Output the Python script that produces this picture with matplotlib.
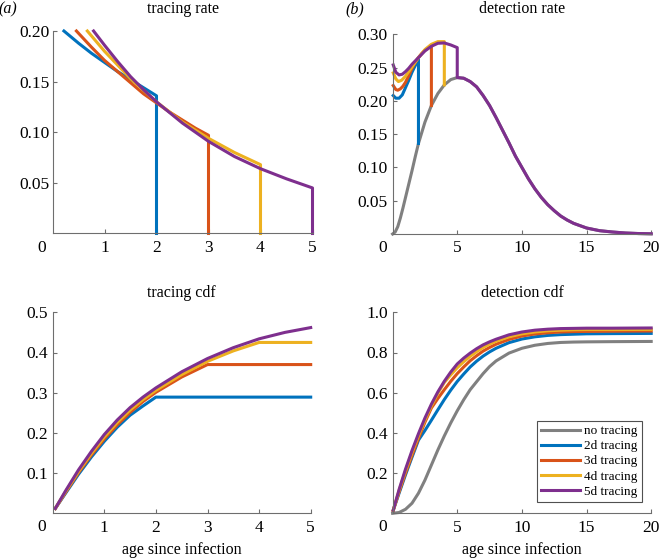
"""
plot.py

Rebuild the four-panel tracing / detection figure (rates and cdfs by age since infection).
"""

from __future__ import annotations

import matplotlib

matplotlib.use("Agg")
import matplotlib.pyplot as plt
from matplotlib.ticker import FormatStrFormatter


W, H = 659, 558

plt.rcParams["font.family"] = ["Liberation Serif", "DejaVu Serif"]

# colours (MATLAB default order + grey baseline)
C_NONE = "#808080"
C_2D = "#0072BD"
C_3D = "#D95319"
C_4D = "#EDB120"
C_5D = "#7E2F8E"

LABELS = ["no tracing", "2d tracing", "3d tracing", "4d tracing", "5d tracing"]

LW = 2.2
TICK_FS = 12.5
TEXT_FS = 11.5

# ---- (a) tracing rate ----
tr_rate_2d_x = [0.22, 0.5, 0.75, 1.0, 1.25, 1.5, 1.75, 2.0, 2.0]
tr_rate_2d_y = [0.200, 0.188, 0.178, 0.169, 0.160, 0.152, 0.144, 0.136, 0.0]
tr_rate_3d_x = [0.46, 0.75, 1.0, 1.25, 1.5, 1.75, 2.0, 2.25, 2.5, 2.75, 3.0, 3.0]
tr_rate_3d_y = [0.200, 0.184, 0.171, 0.160, 0.149, 0.138, 0.129, 0.120, 0.112, 0.104, 0.097, 0.0]
tr_rate_4d_x = [0.67, 1.0, 1.5, 2.0, 2.5, 3.0, 3.5, 4.0, 4.0]
tr_rate_4d_y = [0.200, 0.180, 0.153, 0.130, 0.110, 0.094, 0.080, 0.068, 0.0]
tr_rate_5d_x = [0.79, 1.0, 1.25, 1.5, 1.75, 2.0, 2.5, 3.0, 3.5, 4.0, 4.5, 5.0, 5.0]
tr_rate_5d_y = [0.200, 0.186, 0.170, 0.155, 0.142, 0.130, 0.109, 0.091, 0.076, 0.064, 0.054, 0.045, 0.0]

# ---- (a) tracing cdf ----
tr_cdf_2d_x = [0.05, 0.25, 0.5, 0.75, 1.0, 1.25, 1.5, 1.75, 2.0, 5.0]
tr_cdf_2d_y = [0.012, 0.050, 0.097, 0.140, 0.179, 0.214, 0.244, 0.267, 0.289, 0.289]
tr_cdf_3d_x = [0.05, 0.25, 0.5, 0.75, 1.0, 1.25, 1.5, 1.75, 2.0, 2.5, 3.0, 5.0]
tr_cdf_3d_y = [0.012, 0.052, 0.101, 0.145, 0.185, 0.220, 0.251, 0.278, 0.301, 0.339, 0.370, 0.370]
tr_cdf_4d_x = [0.05, 0.25, 0.5, 0.75, 1.0, 1.25, 1.5, 1.75, 2.0, 2.5, 3.0, 3.5, 4.0, 5.0]
tr_cdf_4d_y = [0.012, 0.054, 0.104, 0.149, 0.190, 0.226, 0.257, 0.283, 0.306, 0.345, 0.378, 0.404, 0.425, 0.425]
tr_cdf_5d_x = [0.05, 0.25, 0.5, 0.75, 1.0, 1.25, 1.5, 1.75, 2.0, 2.5, 3.0, 3.5, 4.0, 4.5, 5.0]
tr_cdf_5d_y = [0.012, 0.056, 0.108, 0.154, 0.196, 0.232, 0.263, 0.289, 0.312, 0.352, 0.385, 0.412, 0.434, 0.450, 0.462]

# ---- (b) detection rate ----
det_rate_none_x = [0.0, 0.2, 0.4, 0.6, 0.8, 1.0, 1.25, 1.5, 1.75, 2.0, 2.25, 2.5, 3.0, 3.5, 4.0, 4.5,
                   5.0, 5.5, 6.0, 6.5, 7.0, 7.5, 8.0, 8.5, 9.0, 9.5, 10.0, 10.5, 11.0, 11.5, 12.0,
                   12.5, 13.0, 13.5, 14.0, 15.0, 16.0, 17.0, 18.0, 19.0, 20.0]
det_rate_none_y = [0.0, 0.003, 0.011, 0.024, 0.039, 0.055, 0.075, 0.095, 0.116, 0.136, 0.152, 0.168,
                   0.193, 0.211, 0.224, 0.232, 0.235, 0.234, 0.229, 0.221, 0.208, 0.193, 0.175,
                   0.156, 0.137, 0.117, 0.100, 0.083, 0.068, 0.055, 0.044, 0.035, 0.027, 0.021,
                   0.016, 0.009, 0.005, 0.003, 0.0015, 0.0007, 0.0003]
det_rate_2d_x = [0.05, 0.25, 0.5, 0.75, 1.0, 1.25, 1.5, 1.75, 2.0, 2.0]
det_rate_2d_y = [0.208, 0.204, 0.204, 0.209, 0.220, 0.231, 0.243, 0.253, 0.263, 0.136]
det_rate_3d_x = [0.05, 0.25, 0.4, 0.6, 0.8, 1.0, 1.25, 1.5, 1.75, 2.0, 2.25, 2.5, 2.75, 3.0, 3.0]
det_rate_3d_y = [0.223, 0.217, 0.216, 0.218, 0.222, 0.228, 0.238, 0.249, 0.258, 0.265, 0.271,
                 0.276, 0.280, 0.283, 0.193]
det_rate_4d_x = [0.05, 0.25, 0.45, 0.7, 1.0, 1.25, 1.5, 1.75, 2.0, 2.5, 3.0, 3.5, 4.0, 4.0]
det_rate_4d_y = [0.242, 0.233, 0.229, 0.231, 0.237, 0.244, 0.251, 0.258, 0.265, 0.277, 0.285,
                 0.289, 0.289, 0.224]
det_rate_5d_x = [0.05, 0.25, 0.5, 0.75, 1.0, 1.25, 1.5, 2.0, 2.5, 3.0, 3.5, 4.0, 4.5, 5.0,
                 5.0, 5.5, 6.0, 6.5, 7.0, 7.5, 8.0, 8.5, 9.0, 9.5, 10.0, 10.5, 11.0, 11.5, 12.0,
                 12.5, 13.0, 13.5, 14.0, 15.0, 16.0, 17.0, 18.0, 19.0, 20.0]
det_rate_5d_y = [0.254, 0.243, 0.239, 0.240, 0.244, 0.249, 0.255, 0.265, 0.275, 0.282, 0.2865,
                 0.287, 0.284, 0.280, 0.235, 0.234, 0.229, 0.221, 0.208, 0.193, 0.175, 0.156,
                 0.137, 0.117, 0.100, 0.083, 0.068, 0.055, 0.044, 0.035, 0.027, 0.021, 0.016,
                 0.009, 0.005, 0.003, 0.0015, 0.0007, 0.0003]

# ---- (b) detection cdf ----
det_cdf_x = [0.05, 0.5, 1.0, 1.5, 2.0, 2.5, 3.0, 3.5, 4.0, 4.5, 5.0, 5.5, 6.0, 6.5, 7.0, 7.5,
             8.0, 9.0, 10.0, 11.0, 12.0, 13.0, 14.0, 15.0, 17.0, 20.0]
det_cdf_none_x = [0.0, 0.5, 1.0, 1.5, 2.0, 2.5, 3.0, 3.5, 4.0, 4.5, 5.0, 5.5, 6.0, 6.5, 7.0, 7.5,
                  8.0, 9.0, 10.0, 11.0, 12.0, 13.0, 14.0, 15.0, 17.0, 20.0]
det_cdf_none = [0.0, 0.004, 0.020, 0.050, 0.100, 0.165, 0.240, 0.315, 0.385, 0.450, 0.510, 0.565,
                0.615, 0.655, 0.695, 0.730, 0.758, 0.797, 0.821, 0.836, 0.845, 0.850, 0.852,
                0.853, 0.854, 0.855]
det_cdf_2d = [0.015, 0.100, 0.192, 0.279, 0.364, 0.412, 0.463, 0.515, 0.566, 0.613, 0.656, 0.693,
              0.728, 0.757, 0.782, 0.803, 0.821, 0.849, 0.867, 0.878, 0.885, 0.889, 0.891,
              0.893, 0.894, 0.895]
det_cdf_3d = [0.015, 0.106, 0.200, 0.288, 0.373, 0.453, 0.524, 0.571, 0.615, 0.657, 0.695, 0.728,
              0.759, 0.784, 0.807, 0.825, 0.841, 0.865, 0.882, 0.892, 0.898, 0.902, 0.904,
              0.905, 0.906, 0.907]
det_cdf_4d = [0.015, 0.113, 0.211, 0.302, 0.386, 0.464, 0.534, 0.597, 0.651, 0.689, 0.724, 0.754,
              0.781, 0.804, 0.825, 0.842, 0.856, 0.878, 0.893, 0.902, 0.908, 0.911, 0.913,
              0.914, 0.914, 0.915]
det_cdf_5d = [0.015, 0.118, 0.220, 0.312, 0.396, 0.474, 0.543, 0.604, 0.657, 0.703, 0.743, 0.772,
              0.797, 0.819, 0.838, 0.853, 0.866, 0.888, 0.902, 0.911, 0.916, 0.919, 0.920,
              0.921, 0.921, 0.922]


def px_axes(fig, left, right, top, bottom):
    return fig.add_axes([left / W, 1 - bottom / H, (right - left) / W, (bottom - top) / H])


def style_axes(ax, ypad=3.5):
    for side in ("top", "right"):
        ax.spines[side].set_visible(False)
    for side in ("left", "bottom"):
        ax.spines[side].set_color("#6e6e6e")
        ax.spines[side].set_linewidth(0.8)
    ax.tick_params(direction="in", length=3, width=0.8, color="#6e6e6e",
                   labelcolor="black", labelsize=TICK_FS)
    ax.tick_params(axis="x", pad=4.5)
    ax.tick_params(axis="y", pad=ypad)


def fig_text(fig, x, y, s, **kw):
    fig.text(x / W, 1 - y / H, s, ha="center", va="center", **kw)


def plot_tracing_rate(fig):
    ax = px_axes(fig, 52.5, 312.5, 31, 233.5)
    series = [(tr_rate_2d_x, tr_rate_2d_y, C_2D), (tr_rate_3d_x, tr_rate_3d_y, C_3D),
              (tr_rate_4d_x, tr_rate_4d_y, C_4D), (tr_rate_5d_x, tr_rate_5d_y, C_5D)]
    for xs, ys, c in series:
        ax.plot(xs, ys, color=c, linewidth=LW, clip_on=False)
    ax.set_xlim(0, 5)
    ax.set_ylim(0, 0.2)
    ax.set_xticks([1, 2, 3, 4, 5])
    ax.set_yticks([0.05, 0.10, 0.15, 0.20])
    ax.yaxis.set_major_formatter(FormatStrFormatter("%.2f"))
    style_axes(ax, ypad=2.0)
    return ax


def plot_detection_rate(fig):
    ax = px_axes(fig, 392.6, 651.2, 34.3, 234)
    ax.plot(det_rate_none_x, det_rate_none_y, color=C_NONE, linewidth=LW, clip_on=False)
    series = [(det_rate_2d_x, det_rate_2d_y, C_2D), (det_rate_3d_x, det_rate_3d_y, C_3D),
              (det_rate_4d_x, det_rate_4d_y, C_4D), (det_rate_5d_x, det_rate_5d_y, C_5D)]
    for xs, ys, c in series:
        ax.plot(xs, ys, color=c, linewidth=LW, clip_on=False)
    ax.set_xlim(0, 20)
    ax.set_ylim(0, 0.3)
    ax.set_xticks([5, 10, 15, 20])
    ax.set_yticks([0.05, 0.10, 0.15, 0.20, 0.25, 0.30])
    ax.yaxis.set_major_formatter(FormatStrFormatter("%.2f"))
    style_axes(ax)
    return ax


def plot_tracing_cdf(fig):
    ax = px_axes(fig, 52.7, 310.7, 312.3, 513.3)
    series = [(tr_cdf_2d_x, tr_cdf_2d_y, C_2D), (tr_cdf_3d_x, tr_cdf_3d_y, C_3D),
              (tr_cdf_4d_x, tr_cdf_4d_y, C_4D), (tr_cdf_5d_x, tr_cdf_5d_y, C_5D)]
    for xs, ys, c in series:
        ax.plot(xs, ys, color=c, linewidth=LW, clip_on=False)
    ax.set_xlim(0, 5)
    ax.set_ylim(0, 0.5)
    ax.set_xticks([1, 2, 3, 4, 5])
    ax.set_yticks([0.1, 0.2, 0.3, 0.4, 0.5])
    ax.yaxis.set_major_formatter(FormatStrFormatter("%.1f"))
    style_axes(ax)
    return ax


def plot_detection_cdf(fig):
    ax = px_axes(fig, 392.6, 651.2, 312.3, 513.3)
    lines = [ax.plot(det_cdf_none_x, det_cdf_none, color=C_NONE, linewidth=LW, clip_on=False)[0]]
    for ys, c in [(det_cdf_2d, C_2D), (det_cdf_3d, C_3D), (det_cdf_4d, C_4D), (det_cdf_5d, C_5D)]:
        lines.append(ax.plot(det_cdf_x, ys, color=c, linewidth=LW, clip_on=False)[0])
    ax.set_xlim(0, 20)
    ax.set_ylim(0, 1.0)
    ax.set_xticks([5, 10, 15, 20])
    ax.set_yticks([0.2, 0.4, 0.6, 0.8, 1.0])
    ax.yaxis.set_major_formatter(FormatStrFormatter("%.1f"))
    style_axes(ax)
    leg = ax.legend(lines, LABELS, loc="lower right", bbox_to_anchor=(0.963, 0.058),
                    fontsize=9.5, frameon=True, fancybox=False, edgecolor="#505050",
                    framealpha=1, handlelength=3.0, handletextpad=0.3, labelspacing=0.22,
                    borderpad=0.3, borderaxespad=0)
    leg.get_frame().set_linewidth(0.8)
    return ax


def main() -> None:
    fig = plt.figure(figsize=(W / 100, H / 100), dpi=100)

    plot_tracing_rate(fig)
    plot_detection_rate(fig)
    plot_tracing_cdf(fig)
    plot_detection_cdf(fig)

    # corner zeros
    for x, y in [(42, 248), (383, 248), (42, 527), (383, 527)]:
        fig_text(fig, x, y, "0", fontsize=TICK_FS)

    # panel titles
    fig_text(fig, 182.5, 9, "tracing rate", fontsize=TEXT_FS)
    fig_text(fig, 522, 9, "detection rate", fontsize=TEXT_FS)
    fig_text(fig, 181.5, 293, "tracing cdf", fontsize=TEXT_FS)
    fig_text(fig, 522, 293, "detection cdf", fontsize=TEXT_FS)
    fig_text(fig, 8, 9, "(a)", fontsize=TEXT_FS, fontstyle="italic")
    fig_text(fig, 355, 9, "(b)", fontsize=TEXT_FS, fontstyle="italic")

    # shared x labels
    fig_text(fig, 181.5, 550, "age since infection", fontsize=TEXT_FS)
    fig_text(fig, 522, 550, "age since infection", fontsize=TEXT_FS)

    fig.savefig("out.png", dpi=100)
    plt.close(fig)


if __name__ == "__main__":
    main()
